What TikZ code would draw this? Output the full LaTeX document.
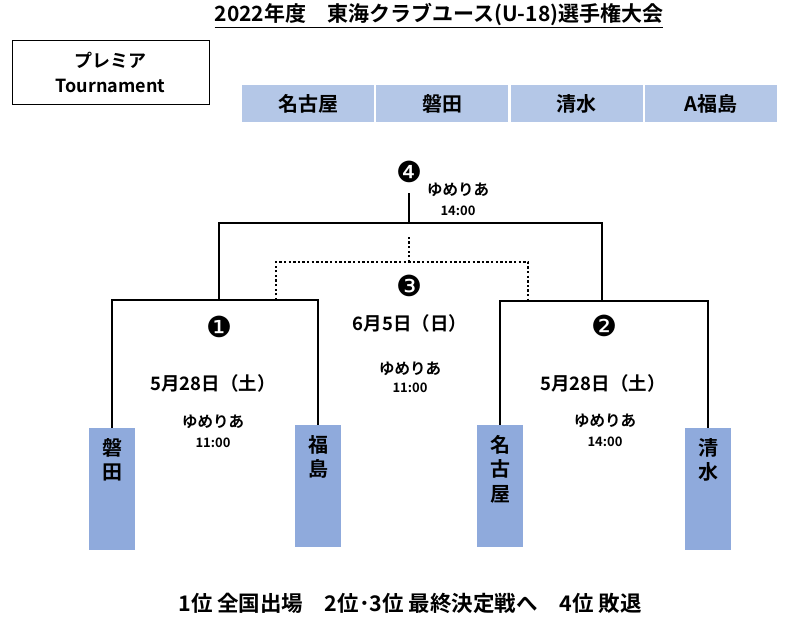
\documentclass[tikz,border=0pt]{standalone}
\usepackage{fontspec}
\setmainfont{Noto Sans CJK JP}[BoldFont={Noto Sans CJK JP Bold}]
\newfontfamily\dingbat{DejaVu Sans}
\usetikzlibrary{positioning}

\definecolor{headblue}{HTML}{B4C7E7}
\definecolor{teamblue}{HTML}{8FAADC}

\tikzset{
    bracket/.style={line width=2.5pt},
    thirdline/.style={line width=2.3pt, dash pattern=on 2.3pt off 2.3pt},
    headcell/.style={fill=headblue, minimum width=132pt, minimum height=37pt, inner sep=0pt, font=\bfseries\fontsize{20}{22}\selectfont},
    team/.style={fill=teamblue, minimum width=46pt, minimum height=122pt, inner sep=0pt},
    teamname/.style={anchor=north, yshift=-7pt, align=center, font=\bfseries\fontsize{20}{24.5}\selectfont},
    matchnum/.style={font=\dingbat\fontsize{29}{30}\selectfont},
    matchdate/.style={font=\bfseries\fontsize{18.5}{20}\selectfont},
    venue/.style={font=\bfseries\fontsize{15.5}{18}\selectfont},
    kickoff/.style={font=\bfseries\fontsize{13}{15}\selectfont},
}

\begin{document}
\begin{tikzpicture}[x=1pt, y=-1pt]
    \useasboundingbox (0,0) rectangle (793,629);
    % title and tournament box
    \node (title) at (439,16) [font=\bfseries\fontsize{21}{22}\selectfont] {\underline{2022年度　東海クラブユース(U-18)選手権大会}};
    \node (premier) at (110.5,72) [draw, thick, minimum width=197pt, minimum height=64pt, align=center, font=\bfseries\fontsize{18}{25}\selectfont] {プレミア\\Tournament};
    % seeding row
    \node (h1) at (308,103.5) [headcell] {名古屋};
    \node (h2) [headcell, right=2pt of h1] {磐田};
    \node (h3) [headcell, right=2pt of h2] {清水};
    \node (h4) [headcell, right=2pt of h3] {A福島};
    % teams
    \node (iwata) at (112,489) [team, label={[teamname]north:磐\\田}] {};
    \node (fukushima) at (318,486) [team, label={[teamname]north:福\\島}] {};
    \node (nagoya) at (500,486) [team, label={[teamname]north:名\\古\\屋}] {};
    \node (shimizu) at (708,489) [team, label={[teamname]north:清\\水}] {};
    % junctions
    \coordinate (m1) at (219,300);
    \coordinate (m2) at (602,301);
    \coordinate (top) at (409,223);
    \coordinate (final) at (409,193);
    \coordinate (third) at (409,262);
    \coordinate (thirdtop) at (409,237);
    \coordinate (thirdL) at (276,300);
    \coordinate (thirdR) at (528,301);
    \draw [bracket] (iwata.north) |- (m1) -| (fukushima.north);
    \draw [bracket] (nagoya.north) |- (m2) -| (shimizu.north);
    \draw [bracket] (m1) |- (top) -| (m2);
    \draw [bracket] (top) -- (final);
    \draw [thirdline] (thirdL) |- (third) -| (thirdR);
    \draw [thirdline] (third) -- (thirdtop);
    % match 1
    \node (n1) at (219,327) [matchnum] {❶};
    \node (d1) at (213,383) [matchdate] {5月28日（土）};
    \node (v1) at (213,422) [venue] {ゆめりあ};
    \node (t1) at (213,443) [kickoff] {11:00};
    % match 2
    \node (n2) at (604,326) [matchnum] {❷};
    \node (d2) at (603,383) [matchdate] {5月28日（土）};
    \node (v2) at (605,421) [venue] {ゆめりあ};
    \node (t2) at (605,442) [kickoff] {14:00};
    % 3rd place
    \node (n3) at (409,286) [matchnum] {❸};
    \node (d3) at (410,323) [matchdate] {6月5日（日）};
    \node (v3) at (410,369) [venue] {ゆめりあ};
    \node (t3) at (410,388) [kickoff] {11:00};
    % final
    \node (n4) at (409,172) [matchnum] {❹};
    \node (v4) at (458,190) [venue] {ゆめりあ};
    \node (t4) at (458,211) [kickoff] {14:00};
    % result note
    \node (note) at (410,603) [font=\bfseries\fontsize{21.5}{22}\selectfont] {1位 全国出場　2位･3位 最終決定戦へ　4位 敗退};
\end{tikzpicture}
\end{document}
